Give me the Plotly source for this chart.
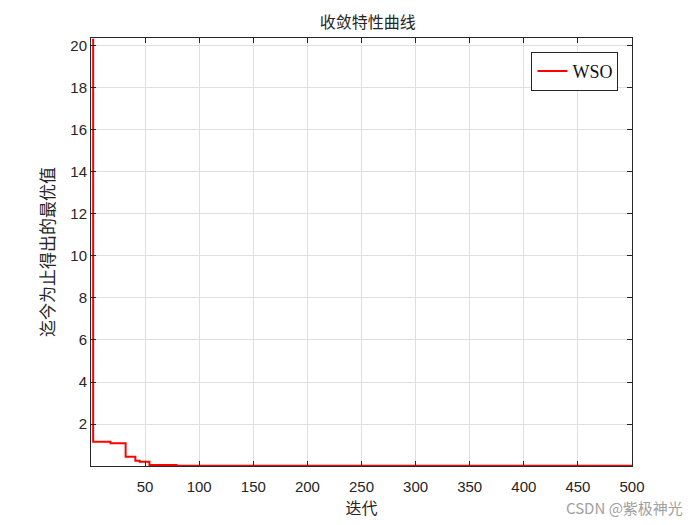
import plotly.graph_objects as go

# convergence curve (step values)
iterations = [1, 2, 18, 32, 41, 45, 54, 79, 500]
best_values = [20.3, 1.16, 1.08, 0.44, 0.25, 0.2, 0.05, 0.01, 0.01]

x_ticks = [50, 100, 150, 200, 250, 300, 350, 400, 450, 500]
y_ticks = [2, 4, 6, 8, 10, 12, 14, 16, 18, 20]

CJK = "Noto Sans CJK SC"
AXIS_COLOR = "#262626"

fig = go.Figure(go.Scatter(
    x=iterations,
    y=best_values,
    mode="lines",
    line={"color": "#ff0000", "width": 2, "shape": "hv"},
    name="WSO",
))

axis_style = dict(
    showline=True,
    linecolor=AXIS_COLOR,
    linewidth=1,
    mirror="ticks",
    ticks="inside",
    ticklen=5,
    tickcolor=AXIS_COLOR,
    showgrid=True,
    gridcolor="#dfdfdf",
    gridwidth=1,
    zeroline=False,
    tickfont={"family": "Liberation Sans, Arial", "size": 15, "color": AXIS_COLOR},
)

fig.update_xaxes(
    range=[0, 500],
    tickvals=x_ticks,
    ticklabelstandoff=7,
    title={"text": "迭代", "font": {"family": CJK, "size": 16, "color": AXIS_COLOR}, "standoff": 4},
    **axis_style,
)
fig.update_yaxes(
    range=[0, 20.38],
    tickvals=y_ticks,
    title={"text": "迄今为止得出的最优值", "font": {"family": CJK, "size": 17, "color": AXIS_COLOR}, "standoff": 11},
    **axis_style,
)

# the page body adds an 8px margin, so the figure is a bit smaller
fig.update_layout(
    width=692,
    height=517,
    paper_bgcolor="white",
    plot_bgcolor="white",
    margin=dict(l=83, r=68, t=30, b=59),
    title={
        "text": "收敛特性曲线",
        "x": 0.52, "xanchor": "center",
        "y": 0.973, "yanchor": "middle",
        "font": {"family": CJK, "size": 16, "color": AXIS_COLOR},
    },
    showlegend=True,
    legend={
        "x": 0.975, "xanchor": "right",
        "y": 0.968, "yanchor": "top",
        "bgcolor": "white",
        "bordercolor": AXIS_COLOR,
        "borderwidth": 1,
        "font": {"family": "Liberation Serif, Times New Roman", "size": 18, "color": "#111"},
    },
)

fig.add_annotation(
    text="CSDN @紫极神光",
    xref="paper", yref="paper",
    x=1.098, y=-0.096,
    xanchor="right", yanchor="middle",
    showarrow=False,
    font={"family": CJK, "size": 15, "color": "#a0a0a0"},
)

fig.write_html("out.html")
